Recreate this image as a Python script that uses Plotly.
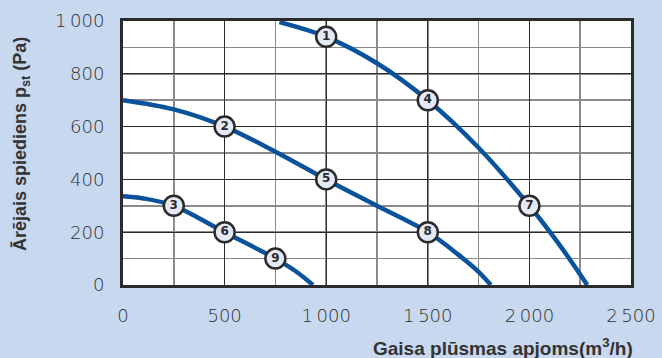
import plotly.graph_objects as go

# Curve data (flow m3/h, pressure Pa)
curve_a_q = [770, 1000, 1250, 1500, 1750, 2000, 2150, 2285]
curve_a_p = [996, 940, 840, 700, 520, 300, 150, 0]
curve_b_q = [0, 250, 500, 750, 1000, 1250, 1500, 1650, 1750, 1810]
curve_b_p = [700, 665, 600, 505, 400, 300, 200, 115, 50, 0]
curve_c_q = [0, 100, 250, 500, 750, 850, 935]
curve_c_p = [336, 328, 300, 200, 100, 52, 0]

marker_q = [1000, 500, 250, 1500, 1000, 500, 2000, 1500, 750]
marker_p = [940, 600, 300, 700, 400, 200, 300, 200, 100]
marker_labels = ["1", "2", "3", "4", "5", "6", "7", "8", "9"]

x_ticks = [0, 500, 1000, 1500, 2000, 2500]
x_tick_labels = ["0", "500", "1\u2009000", "1\u2009500", "2\u2009000", "2\u2009500"]
y_ticks = [0, 200, 400, 600, 800, 1000]
y_tick_labels = ["0", "200", "400", "600", "800", "1\u2009000"]

BG = "#c8d8ef"
LINE = "#0b529c"
DARK = "#2b2b2b"

fig = go.Figure()
for q, p in [(curve_a_q, curve_a_p), (curve_b_q, curve_b_p), (curve_c_q, curve_c_p)]:
    fig.add_trace(go.Scatter(x=q, y=p, mode="lines",
                             line=dict(color=LINE, width=4.5, shape="spline", smoothing=1.0),
                             hoverinfo="skip", showlegend=False, cliponaxis=True))

fig.add_trace(go.Scatter(
    x=marker_q, y=marker_p, mode="markers+text", text=marker_labels,
    textposition="middle center",
    textfont=dict(family="DejaVu Sans", size=12, color=DARK, weight="bold"),
    marker=dict(size=20, color="#e4e9f6", line=dict(color=DARK, width=2.5)),
    showlegend=False, cliponaxis=False, hoverinfo="skip"))

tickfont = dict(family="DejaVu Sans", size=18, color="#2e2e2e", weight=300)
fig.update_xaxes(range=[0, 2500], tickvals=x_ticks, ticktext=x_tick_labels,
                 tickfont=tickfont, showgrid=True, gridcolor=DARK, gridwidth=1.2,
                 minor=dict(dtick=250, showgrid=True, gridcolor="#8a8a8a", gridwidth=1.5),
                 showline=True, linecolor=DARK, linewidth=3, mirror=True,
                 zeroline=False, ticks="", ticklabelstandoff=12, fixedrange=True,
                 automargin=False)
fig.update_yaxes(range=[0, 1000], tickvals=y_ticks, ticktext=y_tick_labels,
                 tickfont=tickfont, showgrid=True, gridcolor=DARK, gridwidth=1.2,
                 minor=dict(dtick=100, showgrid=True, gridcolor="#8a8a8a", gridwidth=1.5),
                 showline=True, linecolor=DARK, linewidth=3, mirror=True,
                 zeroline=False, ticks="", ticklabelstandoff=12, fixedrange=True,
                 automargin=False)

fig.update_layout(
    width=662, height=358,
    margin=dict(l=123, r=31, t=21, b=73),
    paper_bgcolor=BG, plot_bgcolor="white",
    annotations=[
        dict(text="<b>Gaisa plūsmas apjoms(m<sup>3</sup>/h)</b>", xref="paper", yref="paper",
             x=1.008, y=-0.235, xanchor="right", yanchor="middle", showarrow=False,
             font=dict(family="Liberation Sans", size=19, color="#333333")),
        dict(text="<b>Ārējais spiediens p<sub>st</sub> (Pa)</b>", xref="paper", yref="paper",
             x=-0.2008, y=0.534, xanchor="center", yanchor="middle", showarrow=False,
             textangle=-90, font=dict(family="Liberation Sans", size=18, color="#333333")),
    ],
)

fig.write_html("out.html", config={"displayModeBar": False, "staticPlot": True},
               post_script="document.body.style.margin='0';document.body.style.padding='0';"
                           "document.body.style.overflow='hidden';"
                           "document.body.style.background='" + BG + "';")
